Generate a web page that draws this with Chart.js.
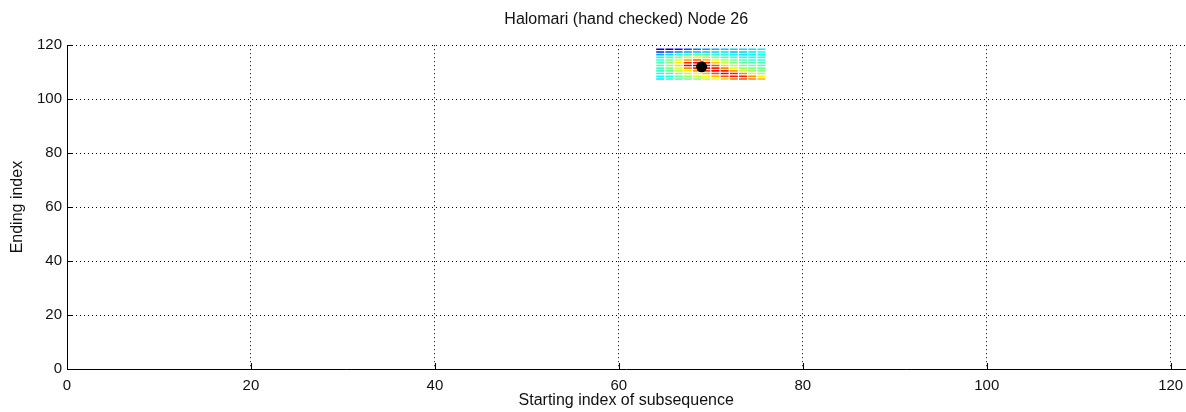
<!DOCTYPE html>
<html>
<head>
<meta charset="utf-8">
<script src="https://cdn.jsdelivr.net/npm/chart.js@4.4.0/dist/chart.umd.min.js"></script>
<style>
html,body{margin:0;padding:0;background:#fff;overflow:hidden;}
#wrap{width:1186px;height:412px;position:relative;overflow:hidden;}
</style>
</head>
<body>
<div id="wrap"><canvas id="c" width="1191" height="412"></canvas></div>
<script>
// ---- data ----
const chartTitle = 'Halomari (hand checked) Node 26';
const xLabel = 'Starting index of subsequence';
const yLabel = 'Ending index';
const xTicks = [0, 20, 40, 60, 80, 100, 120];
const yTicks = [0, 20, 40, 60, 80, 100, 120];
// grid cell centres of the score surface
const cellX = [64.5, 65.5, 66.5, 67.5, 68.5, 69.5, 70.5, 71.5, 72.5, 73.5, 74.5, 75.5];
const cellY = [118.5, 117.5, 116.5, 115.5, 114.5, 113.5, 112.5, 111.5, 110.5, 109.5, 108.5, 107.5];
// normalised scores (rows follow cellY, columns follow cellX)
const heatValues = [
  [0.08,0.10,0.14,0.20,0.25,0.28,0.30,0.32,0.33,0.34,0.35,0.36],
  [0.16,0.20,0.25,0.28,0.30,0.32,0.33,0.34,0.30,0.32,0.35,0.38],
  [0.30,0.35,0.40,0.42,0.45,0.45,0.42,0.40,0.38,0.36,0.38,0.40],
  [0.38,0.45,0.52,0.58,0.60,0.56,0.50,0.46,0.44,0.40,0.40,0.42],
  [0.42,0.48,0.58,0.72,0.80,0.70,0.60,0.53,0.48,0.45,0.42,0.42],
  [0.44,0.52,0.64,0.84,0.88,0.85,0.68,0.58,0.50,0.47,0.45,0.45],
  [0.45,0.52,0.66,0.88,0.95,0.90,0.80,0.66,0.56,0.50,0.48,0.45],
  [0.44,0.50,0.60,0.74,0.84,0.88,0.85,0.74,0.60,0.53,0.50,0.48],
  [0.42,0.48,0.56,0.64,0.72,0.82,0.88,0.85,0.72,0.58,0.52,0.50],
  [0.40,0.44,0.52,0.57,0.62,0.70,0.80,0.88,0.85,0.74,0.60,0.54],
  [0.38,0.42,0.48,0.52,0.57,0.62,0.70,0.80,0.86,0.85,0.74,0.64],
  [0.35,0.40,0.44,0.48,0.52,0.57,0.62,0.68,0.76,0.80,0.75,0.70]
];
const bestPoint = [{x: 69, y: 112}];

// ---- helpers ----
function jet(v) {
  const c = t => Math.max(0, Math.min(1, t));
  const r = c(1.5 - Math.abs(4 * v - 3));
  const g = c(1.5 - Math.abs(4 * v - 2));
  const b = c(1.5 - Math.abs(4 * v - 1));
  return `rgb(${Math.round(r*255)},${Math.round(g*255)},${Math.round(b*255)})`;
}
const heatPoints = [], heatColors = [];
cellY.forEach((yv, i) => cellX.forEach((xv, j) => {
  heatPoints.push({x: xv, y: yv});
  heatColors.push(jet(heatValues[i][j]));
}));

const FONT = 'Arial, "Liberation Sans", sans-serif';

const inwardTicks = {
  id: 'inwardTicks',
  afterDatasetsDraw(chart) {
    const {ctx, chartArea: a, scales: {x, y}} = chart;
    ctx.save();
    ctx.strokeStyle = '#000';
    ctx.lineWidth = 1;
    ctx.beginPath();
    xTicks.forEach(t => {
      const px = Math.round(x.getPixelForValue(t)) + 0.5;
      ctx.moveTo(px, a.bottom); ctx.lineTo(px, a.bottom - 6);
    });
    yTicks.forEach(t => {
      const py = Math.round(y.getPixelForValue(t)) + 0.5;
      ctx.moveTo(a.left, py); ctx.lineTo(a.left + 6, py);
    });
    ctx.stroke();
    ctx.restore();
  }
};

new Chart(document.getElementById('c'), {
  type: 'scatter',
  data: {
    datasets: [
      {
        data: heatPoints,
        pointStyle: 'line',
        pointRadius: 4,
        pointBorderWidth: 1.6,
        pointBorderColor: heatColors,
        pointBackgroundColor: heatColors,
        order: 2
      },
      {
        data: bestPoint,
        pointStyle: 'circle',
        pointRadius: 5.5,
        pointBorderWidth: 0,
        pointBackgroundColor: '#000',
        pointBorderColor: '#000',
        order: 1
      }
    ]
  },
  options: {
    responsive: false,
    animation: false,
    events: [],
    layout: {padding: {left: 0, right: 0, top: 0, bottom: 0}},
    plugins: {
      legend: {display: false},
      tooltip: {enabled: false},
      title: {
        display: true,
        fullSize: false,
        text: chartTitle,
        color: '#111',
        font: {family: FONT, size: 16, weight: 'normal'},
        padding: {top: 10, bottom: 16}
      }
    },
    scales: {
      x: {
        type: 'linear',
        min: 0, max: 121.6,
        afterBuildTicks: s => { s.ticks = xTicks.map(v => ({value: v})); },
        afterFit: s => { s.height = 43; },
        grid: {drawTicks: true, tickLength: 6, tickColor: 'rgba(0,0,0,0)', color: '#000', lineWidth: 1},
        border: {display: true, color: '#000', width: 1, dash: [1, 3]},
        ticks: {color: '#111', font: {family: FONT, size: 15}, padding: 2, maxRotation: 0},
        title: {display: true, text: xLabel, color: '#111', font: {family: FONT, size: 16}, padding: {top: 0, bottom: 2}}
      },
      y: {
        type: 'linear',
        min: 0, max: 120,
        afterBuildTicks: s => { s.ticks = yTicks.map(v => ({value: v})); },
        afterFit: s => { s.width = 67; },
        grid: {drawTicks: false, color: '#000', lineWidth: 1},
        border: {display: true, color: '#000', width: 1, dash: [1, 3]},
        ticks: {color: '#111', font: {family: FONT, size: 15}, padding: 5},
        title: {display: true, text: yLabel, color: '#111', font: {family: FONT, size: 16}, padding: {top: 8, bottom: 0}}
      }
    }
  },
  plugins: [inwardTicks]
});
</script>
</body>
</html>
